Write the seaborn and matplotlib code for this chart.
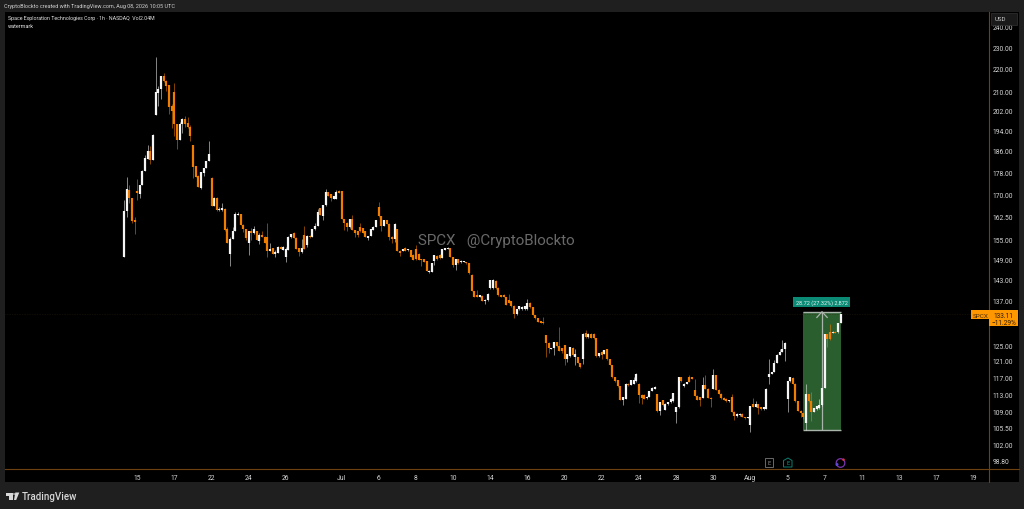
import numpy as np
import pandas as pd
import seaborn as sns
import matplotlib
matplotlib.use("Agg")
import matplotlib.pyplot as plt
from matplotlib.patches import Rectangle, Polygon, Circle
from matplotlib.lines import Line2D

opens = [
149.7,164.6,171.8,168.9,161.5,171.4,170.4,173.3,178.4,183.0,
185.8,182.7,200.0,209.3,211.0,216.6,214.7,212.7,204.0,209.6,
196.4,190.0,196.4,198.4,196.8,195.3,188.2,180.2,176.5,172.4,
177.8,179.6,182.1,176.0,166.3,169.0,164.7,164.7,165.2,158.4,
150.7,155.3,158.0,163.2,163.4,159.9,158.5,153.9,157.9,157.2,
157.9,154.8,156.6,156.0,156.0,151.6,152.4,150.7,150.9,152.9,
151.9,149.8,151.9,155.8,157.1,155.7,152.4,151.2,156.7,153.5,
156.4,156.0,158.4,159.6,165.5,162.9,166.4,170.9,170.2,168.7,
168.7,171.2,171.2,161.8,160.6,159.0,161.8,158.2,157.7,159.3,
158.7,157.7,155.7,156.3,158.2,159.3,165.7,162.7,159.6,161.5,
160.2,156.0,155.2,158.5,151.6,151.6,152.4,151.7,151.7,150.4,
152.1,150.7,149.1,149.0,148.5,145.2,145.3,148.5,150.1,150.4,
149.5,151.9,152.1,152.4,149.6,147.3,149.1,148.2,148.2,148.2,
147.8,144.4,139.6,138.5,138.0,138.3,136.8,137.0,140.4,140.4,
142.6,140.6,138.4,138.4,137.9,137.0,136.8,135.5,133.1,134.5,
134.5,134.5,134.5,136.3,135.0,132.9,132.0,131.3,131.1,127.5,
125.6,124.0,124.2,125.8,124.7,124.2,125.0,121.6,122.2,124.3,
122.0,122.0,120.5,121.6,128.1,127.0,127.9,127.9,126.7,122.2,
123.3,122.8,123.9,121.4,120.0,117.0,116.3,114.9,111.8,112.0,
115.5,115.3,115.5,116.1,115.5,112.9,112.9,112.1,112.5,113.8,
114.3,113.0,109.2,111.6,109.5,110.7,111.2,111.4,108.9,110.1,
117.0,114.9,115.5,117.0,117.0,114.1,112.7,112.3,112.2,115.1,
114.3,112.2,114.3,117.5,114.1,113.2,112.2,112.0,111.4,112.5,
109.1,108.1,108.3,108.6,107.9,107.7,106.2,110.7,110.2,110.7,
110.1,109.6,109.7,117.0,117.9,118.3,120.5,122.6,123.3,123.9,
112.0,116.1,116.8,115.5,111.4,109.3,108.7,106.6,113.0,111.4,
109.0,109.6,109.8,110.5,114.5,127.8,128.5,128.2,128.5,128.3,
130.8]
closes = [
164.6,172.0,168.9,161.0,160.8,170.6,173.3,178.6,183.3,185.8,
182.7,192.3,209.6,211.0,216.6,214.7,212.4,203.6,201.6,196.4,
190.0,196.6,198.4,196.4,195.4,191.7,179.8,176.4,172.7,178.1,
179.6,182.1,184.9,166.3,169.0,164.7,165.1,165.5,158.2,154.1,
155.3,158.0,163.4,163.6,159.9,158.5,155.7,157.9,157.3,158.4,
155.0,156.6,155.8,154.0,151.6,152.2,150.7,151.1,152.9,152.2,
152.7,152.1,156.0,156.9,155.6,152.2,151.2,152.4,152.1,156.4,
155.8,158.4,159.6,164.1,163.2,166.4,171.0,169.7,168.9,169.5,
171.0,170.7,161.9,160.6,159.2,161.8,158.2,157.1,156.6,157.7,
157.3,156.0,156.3,158.4,159.3,161.5,162.7,159.6,161.3,160.2,
155.8,155.2,160.2,151.6,150.9,152.2,151.6,152.0,149.8,148.8,
149.0,148.8,148.8,148.3,145.5,145.6,147.8,150.2,149.0,149.3,
152.1,152.4,152.6,149.7,147.3,149.1,147.8,148.5,148.5,147.8,
144.8,139.6,138.0,138.0,138.4,136.8,137.2,138.9,142.8,142.8,
140.4,138.4,137.9,137.9,135.7,136.3,135.3,133.1,134.5,135.4,
135.2,135.4,136.3,135.0,132.9,132.0,131.1,130.9,130.7,125.6,
124.2,124.2,125.8,124.7,123.5,123.5,121.6,122.7,124.4,122.4,
122.7,120.5,119.4,127.9,127.0,127.9,126.9,126.7,122.2,123.0,
122.4,123.7,121.4,120.0,117.0,116.1,114.9,111.8,112.4,115.5,
115.1,116.3,116.3,117.9,112.9,112.2,112.0,112.5,113.8,114.6,
114.7,109.2,111.2,110.5,110.9,111.2,112.0,113.3,110.1,117.0,
116.1,115.5,115.9,115.9,116.6,112.7,111.8,111.6,115.1,114.3,
112.2,112.0,117.5,114.1,113.2,112.1,111.8,111.4,111.6,109.1,
108.1,108.6,108.6,107.9,107.6,107.9,110.3,110.2,110.7,110.0,
109.6,110.1,114.3,117.9,118.3,120.6,122.6,123.3,123.9,125.6,
116.1,117.0,115.5,111.4,109.3,108.7,107.9,113.0,111.4,109.0,
109.8,110.3,110.5,114.5,127.8,126.5,126.5,128.5,128.1,130.8,
133.11]
highs = [
168.3,176.2,173.6,169.0,162.6,175.6,173.4,178.7,184.6,188.4,
187.8,192.4,225.2,212.4,216.7,218.0,214.8,212.8,204.5,213.5,
196.5,197.5,199.0,199.6,199.5,196.0,188.3,180.3,177.2,178.2,
179.7,182.2,189.8,176.3,169.1,169.1,165.8,167.0,165.5,159.0,
156.0,159.2,164.0,164.0,163.5,160.0,158.6,158.0,158.7,159.5,
158.0,157.1,157.7,156.1,160.4,154.0,152.5,151.7,153.0,153.2,
153.0,152.9,156.1,157.0,157.5,155.8,152.5,155.3,159.6,156.5,
156.5,158.5,160.4,165.1,165.6,166.5,172.0,171.0,170.3,169.6,
171.5,171.5,171.3,161.9,160.7,161.9,163.2,158.3,157.8,160.6,
158.8,157.8,156.4,158.5,159.4,161.6,167.5,162.8,161.4,161.6,
160.3,156.1,160.3,158.6,151.7,152.3,152.8,152.2,151.8,150.5,
153.3,150.8,149.2,149.1,148.6,145.7,147.9,150.3,150.2,150.5,
152.2,152.6,152.8,152.5,149.7,149.2,149.2,148.7,148.6,148.3,
147.9,144.5,139.7,140.0,138.5,138.4,137.3,139.0,142.9,143.0,
142.7,140.7,138.5,138.8,138.0,138.9,136.9,135.6,134.6,135.5,
135.3,135.5,137.3,136.4,135.1,133.0,132.1,131.4,132.4,127.6,
125.7,124.3,125.9,125.9,129.6,124.3,125.1,122.8,124.5,124.4,
124.0,122.1,120.6,128.0,129.0,128.0,128.0,128.0,126.8,123.1,
123.4,123.8,124.0,121.5,120.1,117.1,116.4,115.0,112.5,115.6,
115.6,116.4,117.0,118.0,115.6,113.0,113.0,112.6,113.9,114.7,
115.0,113.1,111.3,111.7,111.0,111.3,112.1,113.4,110.2,117.1,
117.1,115.6,116.0,117.6,117.2,116.5,112.8,112.4,117.2,117.6,
114.4,112.3,119.0,117.6,114.2,113.3,112.3,112.1,111.7,113.0,
109.2,108.7,108.7,108.7,108.0,108.0,110.4,112.2,111.5,110.8,
110.2,110.2,114.4,121.4,118.4,121.3,122.7,124.0,126.2,125.7,
116.2,117.1,117.1,115.6,111.5,109.4,108.8,115.4,113.1,113.5,
109.9,110.4,112.0,114.6,127.9,127.9,130.5,128.6,128.6,130.9,
133.2]
lows = [
149.7,162.6,167.2,160.5,157.0,168.3,168.9,173.3,178.3,182.9,
181.2,182.7,200.0,203.9,207.0,214.0,210.3,200.5,195.0,191.6,
186.8,190.0,193.0,195.3,195.0,189.7,175.9,176.3,172.6,172.0,
176.8,179.6,182.0,166.2,166.0,164.6,164.6,164.6,158.0,154.0,
146.8,155.3,158.0,163.0,159.8,157.5,155.0,150.4,155.0,157.0,
154.9,153.8,155.8,153.9,149.8,151.5,150.6,149.8,150.8,152.0,
151.8,148.3,151.8,155.7,155.5,152.1,150.0,151.0,152.0,152.9,
155.7,155.9,158.3,159.5,163.0,161.5,166.3,169.6,168.0,168.6,
168.6,170.6,161.8,158.2,157.7,158.9,158.1,156.0,155.9,157.6,
157.2,155.9,155.0,156.2,158.1,159.2,162.6,158.0,159.5,160.1,
155.0,154.0,154.5,151.5,150.0,151.5,151.5,151.6,149.7,148.7,
148.9,148.7,147.0,148.2,145.4,144.8,145.2,147.3,148.9,149.2,
149.4,151.8,152.0,149.6,146.6,145.7,147.7,148.0,148.1,147.7,
144.7,139.5,137.9,137.9,137.9,136.7,136.0,136.9,140.3,140.3,
140.3,138.3,137.8,137.8,135.6,136.2,135.2,132.0,133.0,134.4,
134.4,134.4,134.4,134.9,132.8,131.9,131.0,130.8,130.6,122.0,
123.0,123.9,122.5,124.6,123.4,123.0,120.0,120.7,122.1,122.3,
120.0,120.4,119.3,120.3,126.9,126.9,126.8,126.6,122.1,122.1,
121.4,122.7,121.3,119.9,116.9,116.0,114.8,111.7,110.5,111.9,
115.0,115.2,115.4,116.0,111.0,110.9,111.9,112.0,112.4,113.7,
114.2,109.1,108.3,110.4,109.4,110.6,111.1,111.3,106.6,110.0,
116.0,114.8,115.4,115.8,116.5,112.6,111.7,110.4,112.1,114.2,
112.1,110.2,114.2,114.0,113.1,112.0,111.7,111.3,111.3,109.0,
107.2,108.0,108.2,107.8,107.5,107.6,104.6,110.1,110.1,108.5,
109.5,109.5,109.6,115.4,117.8,118.2,120.4,122.5,123.2,121.0,
109.0,116.0,115.4,111.3,109.2,108.0,107.4,105.1,111.3,107.0,
108.9,109.5,109.7,110.4,114.4,124.5,126.4,128.1,128.0,128.2,
130.7]

price_ticks = [240, 230, 220, 210, 202, 194, 186, 178, 170, 162.5, 155, 149, 143, 137,
               125, 121, 117, 113, 109, 105.5, 102, 98.8]
time_labels = ["15","17","22","24","26","Jul","6","8","10","14","16","20","22","24",
               "28","30","Aug","5","7","11","13","17","19"]
time_bars = [5,19,33,47,61,82,96,110,124,138,152,166,180,194,208,222,236,250,264,278,292,306,320]
measure_from, measure_to = 105.11, 133.83
measure_bars = (256, 270, 263)
last_price = 133.11

W, H = 1024, 510
BG = "#1f1f1f"; BLACK = "#000000"; AXIS = "#6e4210"
UP = "#f5f5f5"; DOWN = "#f07d00"; FLAG = "#ff9800"
FONT = ["Roboto", "DejaVu Sans"]

sns.set_theme(style="dark")
plt.rcParams["font.family"] = FONT
fig = plt.figure(figsize=(W/100, H/100), dpi=100, facecolor=BG)

def fx(x): return x / W
def fy(y): return 1 - y / H
def rect(x0, y0, x1, y1, **kw):
    r = Rectangle((fx(x0), fy(y1)), (x1-x0)/W, (y1-y0)/H, transform=fig.transFigure, **kw)
    fig.add_artist(r)
    return r
def ftext(x, y, s, **kw):
    kw.setdefault("va", "center")
    return fig.text(fx(x), fy(y), s, **kw)

rect(5, 13, 1019, 483, facecolor=BLACK, edgecolor="none", zorder=-2)

ax = fig.add_axes([fx(5), fy(469.5), (989-5)/W, (469.5-13)/H], facecolor=BLACK, zorder=1)

idx = np.arange(len(opens))
direction = np.where(np.array(closes) >= np.array(opens), "up", "down")
wicks = pd.DataFrame({"bar": np.r_[idx, idx], "price": np.r_[lows, highs], "dir": np.r_[direction, direction]})
bodies = pd.DataFrame({"bar": np.r_[idx, idx], "price": np.r_[opens, closes], "dir": np.r_[direction, direction]})
palette = {"up": UP, "down": DOWN}

# measure tool under the candles
ax.fill_between(measure_bars[:2], measure_from, measure_to, color="#2b5e2f", lw=0, zorder=1)
ax.hlines([measure_from, measure_to], *measure_bars[:2], color="#a9b4aa", lw=1.0, zorder=1.5)
ax.vlines(measure_bars[2], measure_from, measure_to, color="#a9b4aa", lw=0.9, zorder=1.5)
ax.plot([measure_bars[2]-2, measure_bars[2], measure_bars[2]+2],
        [measure_to*0.988, measure_to, measure_to*0.988], color="#a9b4aa", lw=0.9, zorder=1.5)

ax.axhline(last_price, color="#33240f", lw=0.4, ls=(0, (1, 2)), zorder=1.2)

sns.lineplot(data=wicks, x="bar", y="price", hue="dir", units="bar", estimator=None, palette=palette,
             lw=0.7, alpha=0.55, legend=False, sort=False, ax=ax, zorder=2, solid_capstyle="butt")
sns.lineplot(data=bodies, x="bar", y="price", hue="dir", units="bar", estimator=None, palette=palette,
             lw=1.6, legend=False, sort=False, ax=ax, zorder=3, solid_capstyle="butt")

ax.set_yscale("log")
ax.set_ylim(97.1, 247.1)
ax.set_xlim(-44.8, 325.9)
ax.set_xlabel(""); ax.set_ylabel("")
ax.grid(False)
ax.yaxis.tick_right()
ax.set_yticks(price_ticks)
ax.set_yticklabels([f"{p:.2f}" for p in price_ticks])
ax.minorticks_off()
ax.set_xticks(time_bars)
ax.set_xticklabels(time_labels)
ax.tick_params(axis="y", which="both", length=0, pad=2.7, labelsize=4.9, labelcolor="#d6d6d6")
ax.tick_params(axis="x", which="both", length=0, pad=4.0, labelsize=4.9, labelcolor="#d6d6d6")
for s in ["top", "left"]:
    ax.spines[s].set_visible(False)
for s in ["right", "bottom"]:
    ax.spines[s].set_color(AXIS); ax.spines[s].set_linewidth(0.8)

fig.add_artist(Line2D([fx(989), fx(1019)], [fy(469.5)]*2, color=AXIS, lw=0.8, transform=fig.transFigure))
fig.add_artist(Line2D([fx(989)]*2, [fy(469.5), fy(483)], color=AXIS, lw=0.8, transform=fig.transFigure))

# header
ftext(4, 6.5, "CryptoBlockto created with TradingView.com, Aug 08, 2026 10:05 UTC", fontsize=3.95, color="#cfcfcf", ha="left")
ftext(8, 18.5, "Space Exploration Technologies Corp · 1h · NASDAQ  Vol2.04M", fontsize=3.8, color="#e4e4e4", ha="left")
ftext(8, 26, "watermark", fontsize=3.95, color="#e4e4e4", ha="left")
ftext(418, 241, "SPCX   @CryptoBlockto", fontsize=10.9, color="#696969", ha="left", zorder=4)

# USD box
rect(991, 14, 1017, 25.5, facecolor="#1a1a1a", edgecolor="#333333", lw=0.5, zorder=5)
ftext(994.5, 19.7, "USD", fontsize=4.4, color="#c8c8c8", ha="left", zorder=6)

# last price flag
rect(971, 311.3, 989, 320.3, facecolor=FLAG, edgecolor="none", zorder=5)
rect(989, 311.3, 1017.7, 327.3, facecolor=FLAG, edgecolor="none", zorder=5)
ftext(973, 316, "SPCX", fontsize=4.6, color="#4a2c00", ha="left", zorder=6)
ftext(993, 316, f"{last_price:.2f}", fontsize=4.7, color="#2a1800", ha="left", zorder=6)
ftext(992, 323.2, "−11.29%", fontsize=4.7, color="#2a1800", ha="left", zorder=6)

# measure label
rect(793.3, 297.7, 850.3, 308.3, facecolor="#0b8b76", edgecolor="none", zorder=5)
ftext(821.8, 303, "28.72 (27.32%) 2,872", fontsize=3.95, color="#e8f5f2", ha="center", zorder=6)

# event markers
rect(764.5, 459, 773, 468, facecolor="none", edgecolor="#6a6a6a", lw=0.7, zorder=5)
ftext(768.7, 463.7, "E", fontsize=4.2, color="#8a8a8a", ha="center", zorder=6)
fig.add_artist(Polygon([(fx(783.5), fy(461.5)), (fx(788), fy(459)), (fx(792), fy(461.5)), (fx(792), fy(468)), (fx(783.5), fy(468))],
                       closed=True, fill=False, edgecolor="#0b7f70", lw=0.7, transform=fig.transFigure, zorder=5))
ftext(787.8, 464, "E", fontsize=4.2, color="#0f9a86", ha="center", zorder=6)
ax_icon = fig.add_axes([fx(834), fy(470), 12/W, 12/H], zorder=6)
ax_icon.set_axis_off(); ax_icon.set_xlim(0, 12); ax_icon.set_ylim(0, 12); ax_icon.set_aspect("equal")
ax_icon.add_patch(Circle((6.5, 6), 4.3, fill=False, edgecolor="#7a35b0", lw=0.9))
ax_icon.add_patch(Circle((3.0, 4.5), 1.5, color="#5a48d8", lw=0))
ax_icon.add_patch(Circle((9.5, 9.3), 1.3, color="#d8323c", lw=0))

# footer logo
for poly in ([(5.7, 493.5), (13, 493.5), (13, 501), (9.2, 501), (9.2, 496.6), (5.7, 496.6)],
             [(15.3, 493.5), (19.3, 493.5), (16.2, 501), (12.6+1.4, 501)]):
    fig.add_artist(Polygon([(fx(a), fy(b)) for a, b in poly], closed=True, facecolor="#d8d8d8", edgecolor="none",
                           transform=fig.transFigure))
fig.add_artist(Circle((fx(14.2), fy(495)), 0.0013, facecolor="#d8d8d8", edgecolor="none", transform=fig.transFigure))
ftext(22, 497, "TradingView", fontsize=7.0, color="#d8d8d8", ha="left", fontweight="medium")

fig.savefig("out.png", dpi=100, facecolor=BG)
